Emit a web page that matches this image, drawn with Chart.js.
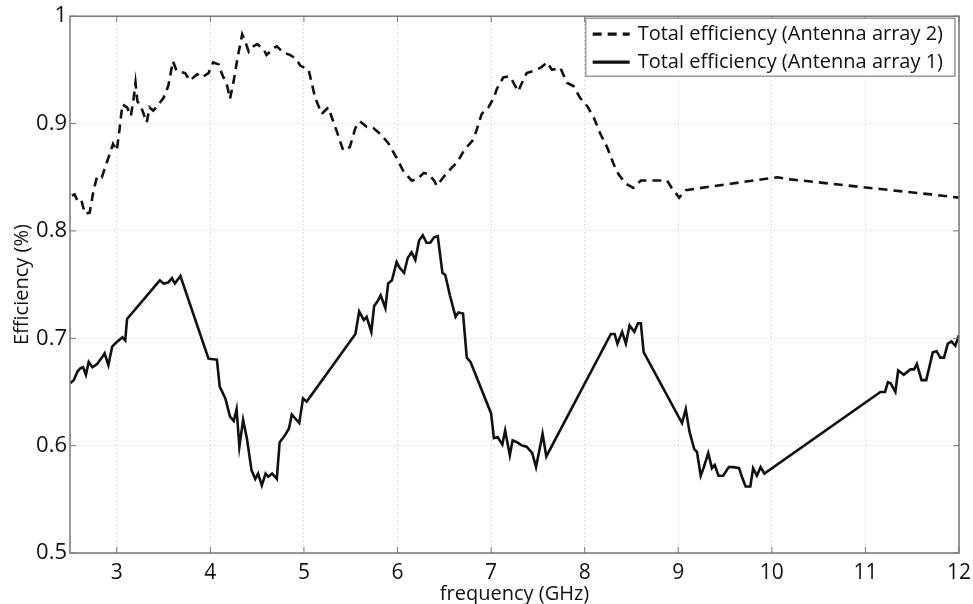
<!DOCTYPE html>
<html>
<head>
<meta charset="utf-8">
<script src="https://cdn.jsdelivr.net/npm/chart.js@4.4.1/dist/chart.umd.min.js"></script>
<style>
  html, body { margin: 0; padding: 0; background: #fff; }
  #wrap { width: 973px; height: 604px; position: relative; }
</style>
</head>
<body>
<div id="wrap"><canvas id="effChart"></canvas></div>
<script>
// Total efficiency, antenna array 2 (dashed)
const freq2 = [2.52, 2.55, 2.58, 2.62, 2.66, 2.71, 2.75, 2.79, 2.84, 2.91, 2.96, 3.0, 3.03, 3.06, 3.11, 3.15,
  3.18, 3.2, 3.22, 3.27, 3.32, 3.35, 3.39, 3.43, 3.5, 3.55, 3.6, 3.64, 3.73, 3.78, 3.86, 3.91, 3.98, 4.03,
  4.09, 4.12, 4.18, 4.21, 4.25, 4.29, 4.34, 4.37, 4.41, 4.46, 4.5, 4.57, 4.6, 4.69, 4.71, 4.78, 4.85, 4.92,
  4.96, 5.05, 5.12, 5.19, 5.26, 5.35, 5.42, 5.49, 5.55, 5.6, 5.67, 5.74, 5.82, 5.9, 5.99, 6.06, 6.15, 6.21,
  6.28, 6.33, 6.39, 6.42, 6.49, 6.58, 6.64, 6.71, 6.8, 6.83, 6.9, 6.97, 7.03, 7.06, 7.13, 7.19, 7.22, 7.29,
  7.33, 7.38, 7.45, 7.53, 7.6, 7.65, 7.74, 7.81, 7.88, 7.95, 8.03, 8.1, 8.17, 8.24, 8.31, 8.36, 8.44, 8.52,
  8.6, 8.67, 8.88, 8.93, 9.01, 9.08, 9.56, 10.06, 10.2, 10.63, 11.16, 11.7, 12.0];
const eff2 = [0.833, 0.834, 0.828, 0.829, 0.816, 0.817, 0.837, 0.851, 0.85, 0.868, 0.881, 0.875, 0.895, 0.918,
  0.915, 0.907, 0.923, 0.938, 0.921, 0.913, 0.901, 0.915, 0.912, 0.916, 0.924, 0.935, 0.958, 0.949, 0.947,
  0.94, 0.946, 0.943, 0.947, 0.957, 0.955, 0.947, 0.935, 0.923, 0.94, 0.961, 0.983, 0.977, 0.967, 0.972,
  0.974, 0.969, 0.964, 0.971, 0.972, 0.966, 0.964, 0.96, 0.954, 0.95, 0.924, 0.909, 0.915, 0.893, 0.875,
  0.878, 0.896, 0.902, 0.897, 0.896, 0.89, 0.882, 0.868, 0.856, 0.847, 0.848, 0.854, 0.853, 0.847, 0.842,
  0.85, 0.859, 0.864, 0.875, 0.884, 0.89, 0.909, 0.915, 0.924, 0.932, 0.943, 0.944, 0.941, 0.93, 0.938,
  0.947, 0.949, 0.952, 0.957, 0.95, 0.952, 0.938, 0.935, 0.924, 0.916, 0.905, 0.89, 0.878, 0.862, 0.853,
  0.844, 0.84, 0.847, 0.847, 0.847, 0.84, 0.831, 0.838, 0.844, 0.85, 0.848, 0.844, 0.839, 0.834, 0.831];

// Total efficiency, antenna array 1 (solid)
const freq1 = [2.5, 2.54, 2.58, 2.61, 2.64, 2.67, 2.7, 2.74, 2.79, 2.84, 2.87, 2.91, 2.95, 2.98, 3.02, 3.06,
  3.09, 3.11, 3.46, 3.5, 3.55, 3.59, 3.62, 3.68, 3.98, 4.07, 4.1, 4.16, 4.21, 4.25, 4.28, 4.31, 4.35, 4.39,
  4.44, 4.48, 4.51, 4.55, 4.59, 4.62, 4.66, 4.71, 4.74, 4.8, 4.84, 4.87, 4.95, 4.99, 5.03, 5.55, 5.59, 5.64,
  5.67, 5.72, 5.75, 5.79, 5.82, 5.87, 5.9, 5.94, 5.99, 6.02, 6.07, 6.11, 6.15, 6.19, 6.23, 6.27, 6.31, 6.35,
  6.39, 6.43, 6.48, 6.51, 6.56, 6.62, 6.65, 6.7, 6.74, 6.78, 7.0, 7.03, 7.07, 7.12, 7.15, 7.2, 7.23, 7.28,
  7.33, 7.38, 7.44, 7.48, 7.53, 7.55, 7.59, 8.28, 8.32, 8.35, 8.4, 8.44, 8.48, 8.53, 8.57, 8.6, 8.63, 9.04,
  9.08, 9.12, 9.17, 9.2, 9.24, 9.27, 9.32, 9.36, 9.39, 9.43, 9.48, 9.54, 9.59, 9.65, 9.68, 9.72, 9.77, 9.8,
  9.84, 9.88, 9.92, 11.16, 11.21, 11.24, 11.27, 11.32, 11.35, 11.41, 11.48, 11.52, 11.55, 11.6, 11.65,
  11.72, 11.76, 11.8, 11.84, 11.88, 11.92, 11.96, 12.0];
const eff1 = [0.658, 0.661, 0.669, 0.672, 0.673, 0.666, 0.678, 0.673, 0.676, 0.682, 0.686, 0.675, 0.692, 0.695,
  0.698, 0.701, 0.698, 0.718, 0.754, 0.751, 0.752, 0.756, 0.751, 0.758, 0.681, 0.68, 0.655, 0.644, 0.627,
  0.623, 0.634, 0.599, 0.624, 0.607, 0.577, 0.569, 0.574, 0.563, 0.574, 0.571, 0.574, 0.569, 0.603, 0.61,
  0.616, 0.629, 0.621, 0.644, 0.641, 0.704, 0.725, 0.717, 0.72, 0.706, 0.73, 0.735, 0.74, 0.728, 0.751,
  0.754, 0.771, 0.766, 0.761, 0.775, 0.78, 0.773, 0.791, 0.796, 0.789, 0.789, 0.794, 0.795, 0.761, 0.759,
  0.74, 0.72, 0.724, 0.723, 0.682, 0.678, 0.63, 0.607, 0.608, 0.601, 0.614, 0.591, 0.605, 0.603, 0.6,
  0.599, 0.593, 0.58, 0.602, 0.611, 0.59, 0.704, 0.704, 0.695, 0.706, 0.695, 0.712, 0.706, 0.714, 0.714,
  0.687, 0.621, 0.634, 0.613, 0.597, 0.594, 0.572, 0.579, 0.593, 0.579, 0.582, 0.572, 0.572, 0.58, 0.58,
  0.579, 0.571, 0.562, 0.562, 0.579, 0.572, 0.58, 0.574, 0.65, 0.65, 0.659, 0.658, 0.65, 0.67, 0.666,
  0.671, 0.671, 0.676, 0.661, 0.661, 0.687, 0.688, 0.682, 0.682, 0.695, 0.697, 0.693, 0.703];

const seriesLabels = ["Total efficiency (Antenna array 2)", "Total efficiency (Antenna array 1)"];
const xTicks = [3, 4, 5, 6, 7, 8, 9, 10, 11, 12];
const yTicks = [0.5, 0.6, 0.7, 0.8, 0.9, 1];

const FONT = "'Open Sans', sans-serif";
const INK = "#111";

function toPoints(xs, ys) {
  return xs.map((x, i) => ({ x: x, y: ys[i] }));
}

// box around the axes plus inward tick marks, matlab style
const framePlugin = {
  id: "frame",
  afterDatasetsDraw(chart) {
    const { ctx, chartArea: a, scales } = chart;
    ctx.save();
    ctx.strokeStyle = "#777";
    ctx.lineWidth = 1.5;
    ctx.strokeRect(a.left, a.top, a.right - a.left, a.bottom - a.top);
    ctx.lineWidth = 1;
    ctx.beginPath();
    xTicks.forEach(v => {
      const px = scales.x.getPixelForValue(v);
      ctx.moveTo(px, a.bottom); ctx.lineTo(px, a.bottom - 6);
      ctx.moveTo(px, a.top); ctx.lineTo(px, a.top + 6);
    });
    yTicks.forEach(v => {
      const py = scales.y.getPixelForValue(v);
      ctx.moveTo(a.left, py); ctx.lineTo(a.left + 6, py);
      ctx.moveTo(a.right, py); ctx.lineTo(a.right - 6, py);
    });
    ctx.stroke();
    ctx.restore();
  }
};

// legend box drawn inside the plot, top right
const boxLegend = {
  id: "boxLegend",
  afterDraw(chart) {
    const { ctx, chartArea: a } = chart;
    ctx.save();
    ctx.font = "20px " + FONT;
    const textW = Math.max(...chart.data.datasets.map(d => ctx.measureText(d.label).width));
    const w = textW + 64, h = 58;
    const x0 = a.right - 4 - w, y0 = a.top + 2;
    ctx.fillStyle = "#fff";
    ctx.fillRect(x0, y0, w, h);
    ctx.strokeStyle = "#999";
    ctx.lineWidth = 1.5;
    ctx.strokeRect(x0, y0, w, h);
    chart.data.datasets.forEach((d, i) => {
      const cy = y0 + 16 + i * 28;
      ctx.strokeStyle = INK;
      ctx.lineWidth = 3.2;
      ctx.setLineDash(d.borderDash || []);
      ctx.beginPath();
      ctx.moveTo(x0 + 7, cy);
      ctx.lineTo(x0 + 44, cy);
      ctx.stroke();
      ctx.setLineDash([]);
      ctx.fillStyle = INK;
      ctx.textBaseline = "middle";
      ctx.fillText(d.label, x0 + 52, cy);
    });
    ctx.restore();
  }
};

new Chart(document.getElementById("effChart"), {
  type: "line",
  data: {
    datasets: [
      {
        label: seriesLabels[0],
        data: toPoints(freq2, eff2),
        borderColor: INK,
        borderWidth: 2.6,
        borderDash: [9, 6],
        pointRadius: 0,
        tension: 0,
        fill: false,
      },
      {
        label: seriesLabels[1],
        data: toPoints(freq1, eff1),
        borderColor: INK,
        borderWidth: 2.6,
        pointRadius: 0,
        tension: 0,
        fill: false,
      },
    ],
  },
  options: {
    responsive: true,
    maintainAspectRatio: false,
    animation: false,
    layout: { padding: { top: 15, right: 14, left: 0, bottom: 0 } },
    scales: {
      x: {
        type: "linear",
        min: 2.5,
        max: 12,
        afterBuildTicks: s => { s.ticks = xTicks.map(v => ({ value: v })); },
        afterFit: s => { s.height = 51; s.paddingRight = 0; s.paddingLeft = 0; },
        grid: { color: "#c8c8c8", drawTicks: false, lineWidth: 1 },
        border: { display: false, dash: [1, 3] },
        ticks: { color: INK, font: { family: FONT, size: 21 }, padding: 7, maxRotation: 0 },
        title: { display: true, text: "frequency (GHz)", color: INK, font: { family: FONT, size: 20 }, padding: { top: 0, bottom: -2 } },
      },
      y: {
        type: "linear",
        min: 0.5,
        max: 1,
        afterBuildTicks: s => { s.ticks = yTicks.map(v => ({ value: v })); },
        afterFit: s => { s.width = 70; },
        grid: { color: "#c8c8c8", drawTicks: false, lineWidth: 1 },
        border: { display: false, dash: [1, 3] },
        ticks: { color: INK, font: { family: FONT, size: 22 }, padding: 3, callback: v => String(Number(v.toFixed(1))) },
        title: { display: true, text: "Efficiency (%)", color: INK, font: { family: FONT, size: 20 }, padding: { top: 10, bottom: 0 } },
      },
    },
    plugins: {
      legend: { display: false },
      tooltip: { enabled: false },
    },
  },
  plugins: [framePlugin, boxLegend],
});
</script>
</body>
</html>
